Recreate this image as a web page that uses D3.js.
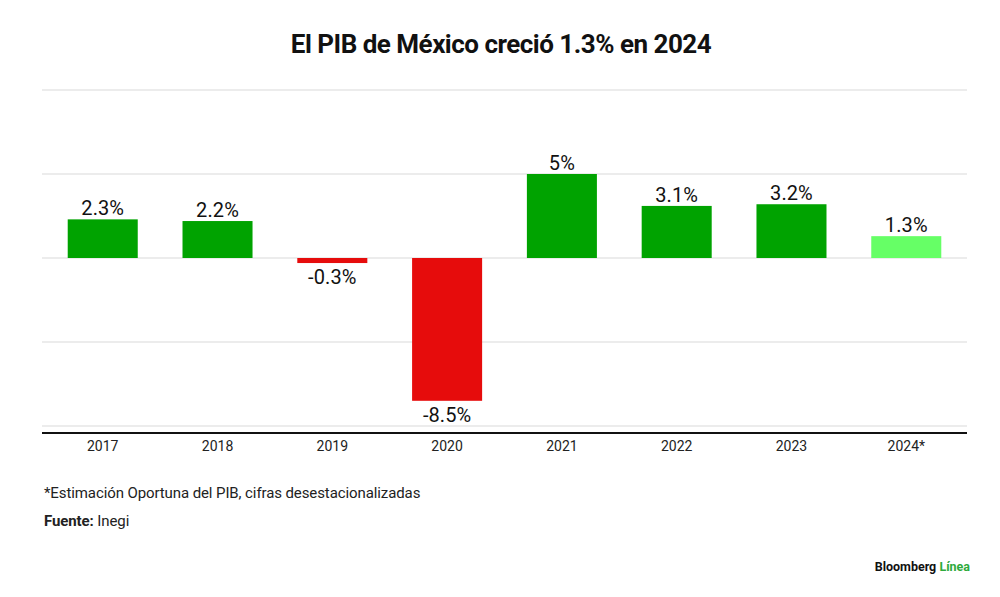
<!DOCTYPE html>
<html><head><meta charset="utf-8">
<script src="https://cdn.jsdelivr.net/npm/d3@7"></script>
<style>body{margin:0;background:#fff}svg{display:block}</style>
</head><body>
<script>
const years = ["2017","2018","2019","2020","2021","2022","2023","2024*"];
const growth = [2.3, 2.2, -0.3, -8.5, 5, 3.1, 3.2, 1.3];
const labels = ["2.3%","2.2%","-0.3%","-8.5%","5%","3.1%","3.2%","1.3%"];
const gridTicks = [10, 5, 0, -5, -10];
const title = "El PIB de México creció 1.3% en 2024";
const note = "*Estimación Oportuna del PIB, cifras desestacionalizadas";

const W = 1000, H = 597;
const svg = d3.select("body").append("svg").attr("width", W).attr("height", H);
const font = "Roboto, 'Liberation Sans', sans-serif";

const x = d3.scaleBand().domain(years).range([42, 967]).paddingInner(0.39).paddingOuter(0.224);
const y = d3.scaleLinear().domain([-10, 10]).range([426, 90]);

svg.append("text").attr("x", 501).attr("y", 53).attr("text-anchor", "middle")
  .attr("font-family", font).attr("font-weight", 700).attr("font-size", 26)
  .attr("letter-spacing", -0.5).attr("fill", "#111").text(title);

svg.append("g").selectAll("line").data(gridTicks).join("line")
  .attr("x1", 42).attr("x2", 967).attr("y1", d => y(d)).attr("y2", d => y(d))
  .attr("stroke", "#d9d9d9").attr("stroke-width", 1);

const colorFor = (d, i) => d < 0 ? "#e60c0c" : (years[i].includes("*") ? "#66ff66" : "#00a300");

svg.append("g").selectAll("rect").data(growth).join("rect")
  .attr("x", (d, i) => x(years[i])).attr("width", x.bandwidth())
  .attr("y", d => y(Math.max(0, d))).attr("height", d => Math.abs(y(d) - y(0)))
  .attr("fill", (d, i) => colorFor(d, i));

svg.append("g").selectAll("text").data(growth).join("text")
  .attr("x", (d, i) => x(years[i]) + x.bandwidth() / 2)
  .attr("y", d => d >= 0 ? y(d) - 4 : y(d) + 21)
  .attr("text-anchor", "middle").attr("font-family", font).attr("font-size", 20)
  .attr("letter-spacing", 0.1).attr("fill", "#111").text((d, i) => labels[i]);

const xAxis = svg.append("g").attr("transform", "translate(0,433)")
  .call(d3.axisBottom(x).tickSize(0).tickPadding(8));
xAxis.select(".domain").attr("d", "M42,0H967").attr("stroke", "#111").attr("stroke-width", 2.2);
xAxis.selectAll("text").attr("font-family", font).attr("font-size", 14).attr("fill", "#222");

svg.append("text").attr("x", 44).attr("y", 498).attr("font-family", font)
  .attr("font-size", 15).attr("letter-spacing", -0.1).attr("fill", "#222").text(note);

const src = svg.append("text").attr("x", 44).attr("y", 526).attr("font-family", font)
  .attr("font-size", 15).attr("letter-spacing", -0.1).attr("fill", "#222");
src.append("tspan").attr("font-weight", 700).text("Fuente:");
src.append("tspan").text(" Inegi");

const logo = svg.append("text").attr("x", 970).attr("y", 571).attr("text-anchor", "end")
  .attr("font-family", font).attr("font-weight", 700).attr("font-size", 12.5);
logo.append("tspan").attr("fill", "#111").text("Bloomberg ");
logo.append("tspan").attr("fill", "#2eaa3c").text("Línea");
</script>
</body></html>
